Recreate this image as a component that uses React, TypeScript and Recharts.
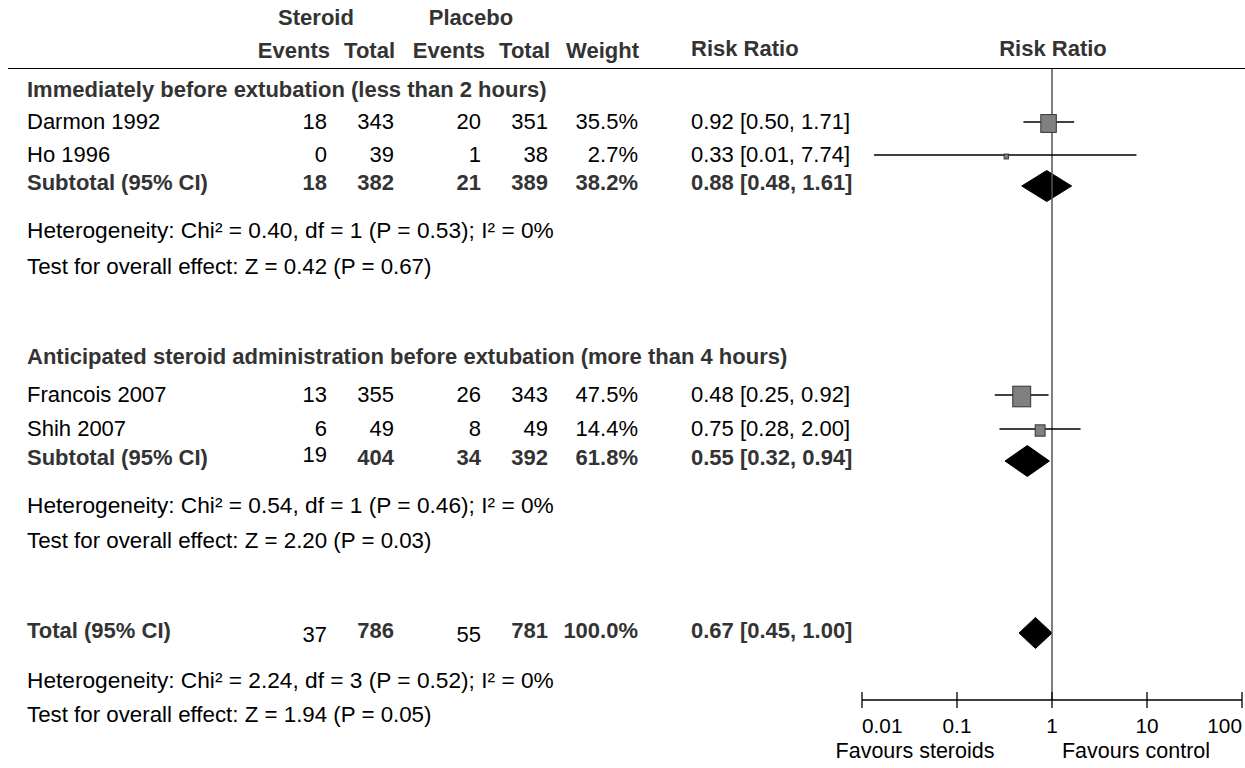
import React from "react"
import { ComposedChart, XAxis, YAxis, Line, Scatter, Area, ReferenceLine } from "recharts"

// study level data
const STUDIES = ["Darmon 1992", "Ho 1996", "Francois 2007", "Shih 2007"]
const STEROID_EVENTS = [18, 0, 13, 6]
const STEROID_TOTAL = [343, 39, 355, 49]
const PLACEBO_EVENTS = [20, 1, 26, 8]
const PLACEBO_TOTAL = [351, 38, 343, 49]
const WEIGHTS = [35.5, 2.7, 47.5, 14.4]
const RR = [0.92, 0.33, 0.48, 0.75]
const RR_LO = [0.5, 0.0134, 0.25, 0.28]
const RR_HI = [1.71, 7.74, 0.92, 2.0]

// subgroups
const GROUPS = [
  "Immediately before extubation (less than 2 hours)",
  "Anticipated steroid administration before extubation (more than 4 hours)",
]
const SUB_STEROID_EVENTS = [18, 19]
const SUB_STEROID_TOTAL = [382, 404]
const SUB_PLACEBO_EVENTS = [21, 34]
const SUB_PLACEBO_TOTAL = [389, 392]
const SUB_WEIGHTS = [38.2, 61.8]
const SUB_RR = [0.88, 0.55]
const SUB_LO = [0.48, 0.32]
const SUB_HI = [1.61, 0.94]
const SUB_HETEROGENEITY = [
  "Heterogeneity: Chi² = 0.40, df = 1 (P = 0.53); I² = 0%",
  "Heterogeneity: Chi² = 0.54, df = 1 (P = 0.46); I² = 0%",
]
const SUB_TEST = [
  "Test for overall effect: Z = 0.42 (P = 0.67)",
  "Test for overall effect: Z = 2.20 (P = 0.03)",
]

// overall
const TOTAL_COUNTS = [37, 786, 55, 781]
const TOTAL_WEIGHT = 100.0
const TOTAL_RR = [0.67, 0.45, 1.0]
const TOTAL_HETEROGENEITY = "Heterogeneity: Chi² = 2.24, df = 3 (P = 0.52); I² = 0%"
const TOTAL_TEST = "Test for overall effect: Z = 1.94 (P = 0.05)"

const AXIS_TICKS = [0.01, 0.1, 1, 10, 100]
const FAVOURS = ["Favours steroids", "Favours control"]

// layout (pixel rows / columns)
const STUDY_ROW = [0, 0, 1, 1]
const STUDY_Y = [122, 155, 395, 429]
const GROUP_Y = [90, 357]
const SUB_Y = [186, 461]
const SUB_HET_Y = [230, 505]
const SUB_TEST_Y = [267, 541]
const TOTAL_Y = 633
const TOTAL_HET_Y = 680
const TOTAL_TEST_Y = 715
const COL_NAME = 27
const COL_SE = 327
const COL_ST = 394
const COL_PE = 481
const COL_PT = 548
const COL_W = 638
const COL_RR = 691
const DIAMOND_HALF = 15.5

const FONT = '"Liberation Sans", Arial, Helvetica, sans-serif'
const W = 1245
const H = 768

const fmtW = (w: number) => `${w.toFixed(1)}%`
const fmtRR = (r: number, lo: number, hi: number) => `${r.toFixed(2)} [${lo.toFixed(2)}, ${hi.toFixed(2)}]`

function T({ x, y, text, align = "left", bold = false, size = 22, dy = 0 }: any) {
  const tx = align === "left" ? "0" : align === "right" ? "-100%" : "-50%"
  return (
    <div
      style={{
        position: "absolute",
        left: x,
        top: y + dy,
        transform: `translate(${tx}, -50%)`,
        fontFamily: FONT,
        fontSize: size,
        lineHeight: 1,
        fontWeight: bold ? 700 : 400,
        color: bold ? "#333" : "#000",
        whiteSpace: "nowrap",
      }}
    >
      {text}
    </div>
  )
}

const Square = (props: any) => {
  const { cx, cy, payload } = props
  const w = 2.6 * Math.sqrt(payload.weight)
  const h = w * 1.15
  return <rect x={cx - w / 2} y={cy - h / 2 + 1.5} width={w} height={h} fill="#808080" stroke="#333" strokeWidth={1} />
}

const AxisTick = (props: any) => {
  const { x, y, payload, index } = props
  const anchor = index === 0 ? "start" : index === AXIS_TICKS.length - 1 ? "end" : "middle"
  return (
    <g>
      <line x1={x} x2={x} y1={y - 8} y2={y + 8} stroke="#000" strokeWidth={1.3} />
      <text x={x} y={y + 25} textAnchor={anchor} dominantBaseline="central" fontSize={20.8} fontFamily={FONT} fill="#000">
        {String(payload.value)}
      </text>
    </g>
  )
}

export default function App() {
  const squares = STUDIES.map((_, i) => ({ x: RR[i], y: STUDY_Y[i], weight: WEIGHTS[i] }))
  const ciLines = STUDIES.map((_, i) => [
    { x: RR_LO[i], y: STUDY_Y[i] },
    { x: RR_HI[i], y: STUDY_Y[i] },
  ])
  const diamond = (est: number, lo: number, hi: number, y: number) => [
    { x: lo, band: [y, y] },
    { x: est, band: [y - DIAMOND_HALF, y + DIAMOND_HALF] },
    { x: hi, band: [y, y] },
  ]
  const diamonds = [
    diamond(SUB_RR[0], SUB_LO[0], SUB_HI[0], SUB_Y[0]),
    diamond(SUB_RR[1], SUB_LO[1], SUB_HI[1], SUB_Y[1]),
    diamond(TOTAL_RR[0], TOTAL_RR[1], TOTAL_RR[2], TOTAL_Y),
  ]

  return (
    <div style={{ position: "relative", width: W, height: H, background: "#fff" }}>
      <style>{`body{margin:0;background:#fff}`}</style>
      <ComposedChart width={W} height={H} margin={{ top: 68, right: 3, bottom: 0, left: 862 }}>
        <XAxis
          type="number"
          dataKey="x"
          scale="log"
          domain={[0.01, 100]}
          ticks={AXIS_TICKS}
          interval={0}
          allowDataOverflow
          height={68}
          axisLine={{ stroke: "#000", strokeWidth: 1.3 }}
          tickLine={false}
          tickSize={0}
          tickMargin={0}
          tick={AxisTick}
        />
        <YAxis type="number" dataKey="y" domain={[68, 700]} reversed hide width={0} allowDataOverflow />
        <ReferenceLine x={1} stroke="#555" strokeWidth={1.5} />
        {ciLines.map((d, i) => (
          <Line
            key={"ci" + i}
            data={d}
            dataKey="y"
            stroke="#000"
            strokeWidth={1.3}
            dot={false}
            activeDot={false}
            isAnimationActive={false}
          />
        ))}
        {diamonds.map((d, i) => (
          <Area
            key={"dm" + i}
            data={d}
            dataKey="band"
            type="linear"
            stroke="#000"
            strokeWidth={1}
            fill="#000"
            fillOpacity={1}
            dot={false}
            activeDot={false}
            isAnimationActive={false}
          />
        ))}
        <Scatter data={squares} dataKey="y" shape={Square} isAnimationActive={false} />
      </ComposedChart>

      {/* header */}
      <T x={316} y={18} text="Steroid" align="center" bold />
      <T x={471} y={18} text="Placebo" align="center" bold />
      <T x={330} y={51} text="Events" align="right" bold />
      <T x={395} y={51} text="Total" align="right" bold />
      <T x={485} y={51} text="Events" align="right" bold />
      <T x={550} y={51} text="Total" align="right" bold />
      <T x={639} y={51} text="Weight" align="right" bold />
      <T x={COL_RR} y={49} text="Risk Ratio" bold />
      <T x={1053} y={49} text="Risk Ratio" align="center" bold />
      <div style={{ position: "absolute", left: 8, top: 67.5, width: W - 8, height: 1.3, background: "#000" }} />

      {GROUPS.map((g, gi) => (
        <React.Fragment key={g}>
          <T x={COL_NAME} y={GROUP_Y[gi]} text={g} bold />
          {STUDIES.map((s, i) =>
            STUDY_ROW[i] !== gi ? null : (
              <React.Fragment key={s}>
                <T x={COL_NAME} y={STUDY_Y[i]} text={s} />
                <T x={COL_SE} y={STUDY_Y[i]} text={STEROID_EVENTS[i]} align="right" />
                <T x={COL_ST} y={STUDY_Y[i]} text={STEROID_TOTAL[i]} align="right" />
                <T x={COL_PE} y={STUDY_Y[i]} text={PLACEBO_EVENTS[i]} align="right" />
                <T x={COL_PT} y={STUDY_Y[i]} text={PLACEBO_TOTAL[i]} align="right" />
                <T x={COL_W} y={STUDY_Y[i]} text={fmtW(WEIGHTS[i])} align="right" />
                <T x={COL_RR} y={STUDY_Y[i]} text={fmtRR(RR[i], RR_LO[i], RR_HI[i])} />
              </React.Fragment>
            )
          )}
          <T x={COL_NAME} y={SUB_Y[gi]} text="Subtotal (95% CI)" bold dy={-3} />
          <T x={COL_SE} y={SUB_Y[gi]} text={SUB_STEROID_EVENTS[gi]} align="right" bold={gi === 0} dy={gi === 0 ? -3 : -6} />
          <T x={COL_ST} y={SUB_Y[gi]} text={SUB_STEROID_TOTAL[gi]} align="right" bold dy={-3} />
          <T x={COL_PE} y={SUB_Y[gi]} text={SUB_PLACEBO_EVENTS[gi]} align="right" bold dy={-3} />
          <T x={COL_PT} y={SUB_Y[gi]} text={SUB_PLACEBO_TOTAL[gi]} align="right" bold dy={-3} />
          <T x={COL_W} y={SUB_Y[gi]} text={fmtW(SUB_WEIGHTS[gi])} align="right" bold dy={-3} />
          <T x={COL_RR} y={SUB_Y[gi]} text={fmtRR(SUB_RR[gi], SUB_LO[gi], SUB_HI[gi])} bold dy={-3} />
          <T x={COL_NAME} y={SUB_HET_Y[gi]} text={SUB_HETEROGENEITY[gi]} size={22.7} />
          <T x={COL_NAME} y={SUB_TEST_Y[gi]} text={SUB_TEST[gi]} size={22.3} />
        </React.Fragment>
      ))}

      <T x={COL_NAME} y={TOTAL_Y} text="Total (95% CI)" bold dy={-2} />
      <T x={COL_SE} y={TOTAL_Y} text={TOTAL_COUNTS[0]} align="right" dy={2} />
      <T x={COL_ST} y={TOTAL_Y} text={TOTAL_COUNTS[1]} align="right" bold dy={-2} />
      <T x={COL_PE} y={TOTAL_Y} text={TOTAL_COUNTS[2]} align="right" dy={2} />
      <T x={COL_PT} y={TOTAL_Y} text={TOTAL_COUNTS[3]} align="right" bold dy={-2} />
      <T x={COL_W} y={TOTAL_Y} text={fmtW(TOTAL_WEIGHT)} align="right" bold dy={-2} />
      <T x={COL_RR} y={TOTAL_Y} text={fmtRR(TOTAL_RR[0], TOTAL_RR[1], TOTAL_RR[2])} bold dy={-2} />
      <T x={COL_NAME} y={TOTAL_HET_Y} text={TOTAL_HETEROGENEITY} size={22.7} />
      <T x={COL_NAME} y={TOTAL_TEST_Y} text={TOTAL_TEST} size={22.3} />

      <T x={915} y={752} text={FAVOURS[0]} align="center" size={21.5} />
      <T x={1136} y={752} text={FAVOURS[1]} align="center" size={21.5} />
    </div>
  )
}
